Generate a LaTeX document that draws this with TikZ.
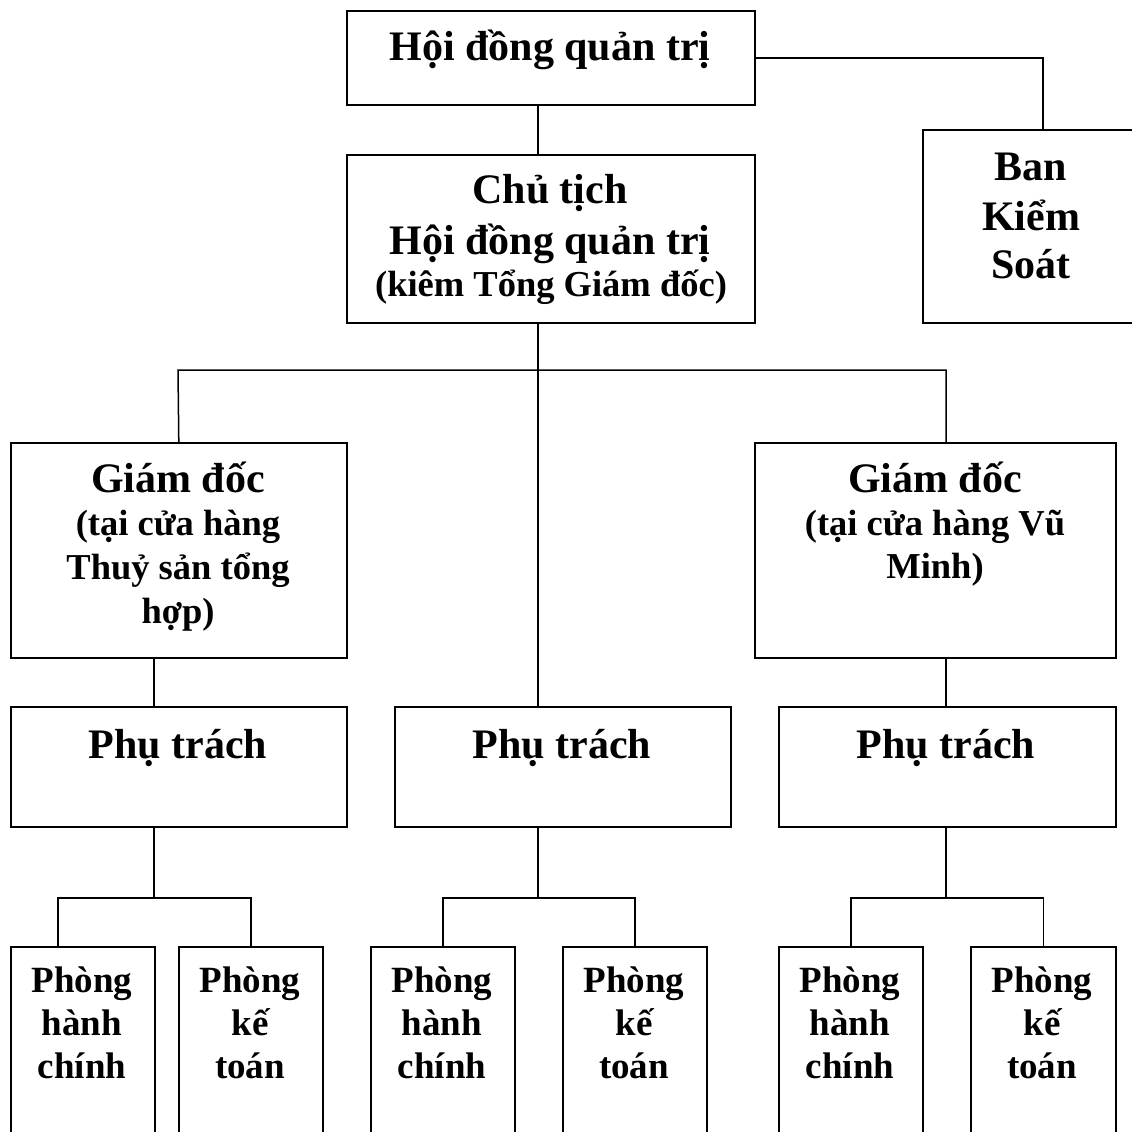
\documentclass[tikz,border=0pt]{standalone}
\usepackage{fontspec}
\setmainfont{Liberation Serif}
\tikzset{
  box/.style={draw, line width=1.6pt, rectangle, inner sep=0pt, anchor=north west},
  link/.style={line width=1.5pt},
  lbl/.style={anchor=base, inner sep=0pt},
  big/.style={lbl, font=\bfseries\fontsize{42}{48}\selectfont},
  mid/.style={lbl, font=\bfseries\fontsize{37}{43}\selectfont},
  sub/.style={lbl, font=\bfseries\fontsize{36.5}{43}\selectfont},
}
\newcommand\orgbox[5]{\node[box, minimum width=#4pt, minimum height=#5pt] (#1) at (#2,#3) {};}
\begin{document}
\begin{tikzpicture}[x=1pt, y=-1pt]
\useasboundingbox (0,0) rectangle (1132,1132);
\fill[white] (0,0) rectangle (1132,1132);
\clip (0,0) rectangle (1132,1132);

% boxes
\orgbox{hdqt}{346}{10}{408}{94}
\orgbox{ct}{346}{154}{408}{168}
\orgbox{ban}{922}{129}{240}{193}
\orgbox{gdl}{10}{442}{336}{215}
\orgbox{gdr}{754}{442}{361}{215}
\orgbox{ptl}{10}{706}{336}{120}
\orgbox{ptm}{394}{706}{336}{120}
\orgbox{ptr}{778}{706}{337}{120}
\orgbox{a1}{10}{946}{144}{250}
\orgbox{a2}{178}{946}{144}{250}
\orgbox{b1}{370}{946}{144}{250}
\orgbox{b2}{562}{946}{144}{250}
\orgbox{c1}{778}{946}{144}{250}
\orgbox{c2}{970}{946}{145}{250}

% labels
\node[big] (hdqt-1) at (550,61) {Hội đồng quản trị};
\node[big] (ct-1) at (550,203) {Chủ tịch};
\node[big] (ct-2) at (550,254) {Hội đồng quản trị};
\node[sub] (ct-3) at (551,296) {(kiêm Tổng Giám đốc)};
\node[big] (ban-1) at (1031,180) {Ban};
\node[big] (ban-2) at (1031,230) {Kiểm};
\node[big] (ban-3) at (1031,278) {Soát};
\node[big] (gdl-1) at (178,492) {Giám đốc};
\node[sub] (gdl-2) at (178,535) {(tại cửa hàng};
\node[sub] (gdl-3) at (178,579) {Thuỷ sản tổng};
\node[sub] (gdl-4) at (178,623) {hợp)};
\node[big] (gdr-1) at (935,492) {Giám đốc};
\node[sub] (gdr-2) at (935,535) {(tại cửa hàng Vũ};
\node[sub] (gdr-3) at (935,578) {Minh)};
\node[big] (ptl-1) at (178,758) {Phụ trách};
\node[big] (ptm-1) at (562,758) {Phụ trách};
\node[big] (ptr-1) at (946,758) {Phụ trách};
\foreach \n/\c in {a1/82, b1/442, c1/850}{
  \node[mid] (\n-1) at (\c,992) {Phòng};
  \node[mid] (\n-2) at (\c,1035) {hành};
  \node[mid] (\n-3) at (\c,1078) {chính};
}
\foreach \n/\c in {a2/250, b2/634, c2/1042}{
  \node[mid] (\n-1) at (\c,992) {Phòng};
  \node[mid] (\n-2) at (\c,1035) {kế};
  \node[mid] (\n-3) at (\c,1078) {toán};
}

% connectors
\coordinate (sp) at (538,0);
\coordinate (barL) at (178,370);
\coordinate (barR) at (946,370);
\coordinate (cl) at (154,0);
\draw[link] (hdqt.east) -| (ban.north);
\draw[link] (hdqt.south -| sp) -- (ct.north -| sp);
\draw[link] (ct.south -| sp) -- (ptm.north -| sp);
\draw[link] (gdl.north) -- (barL) -- (barR) -- (barR |- gdr.north);
\draw[link] (gdl.south -| cl) -- (ptl.north -| cl);
\draw[link] (gdr.south -| barR) -- (ptr.north -| barR);

% department branches
\coordinate (jl) at (154,898);
\coordinate (jm) at (538,898);
\coordinate (jr) at (946,898);
\coordinate (ka) at (58,0);
\draw[link] (ptl.south -| jl) -- (jl);
\draw[link] (a1.north -| ka) -- (ka |- jl) -- (a2.north |- jl) -- (a2.north);
\draw[link] (ptm.south -| jm) -- (jm);
\draw[link] (b1.north) -- (b1.north |- jm) -- (b2.north |- jm) -- (b2.north);
\draw[link] (ptr.south -| jr) -- (jr);
\draw[link] (c1.north) -- (c1.north |- jr) -- (c2.north |- jr) -- (c2.north);
\end{tikzpicture}
\end{document}
